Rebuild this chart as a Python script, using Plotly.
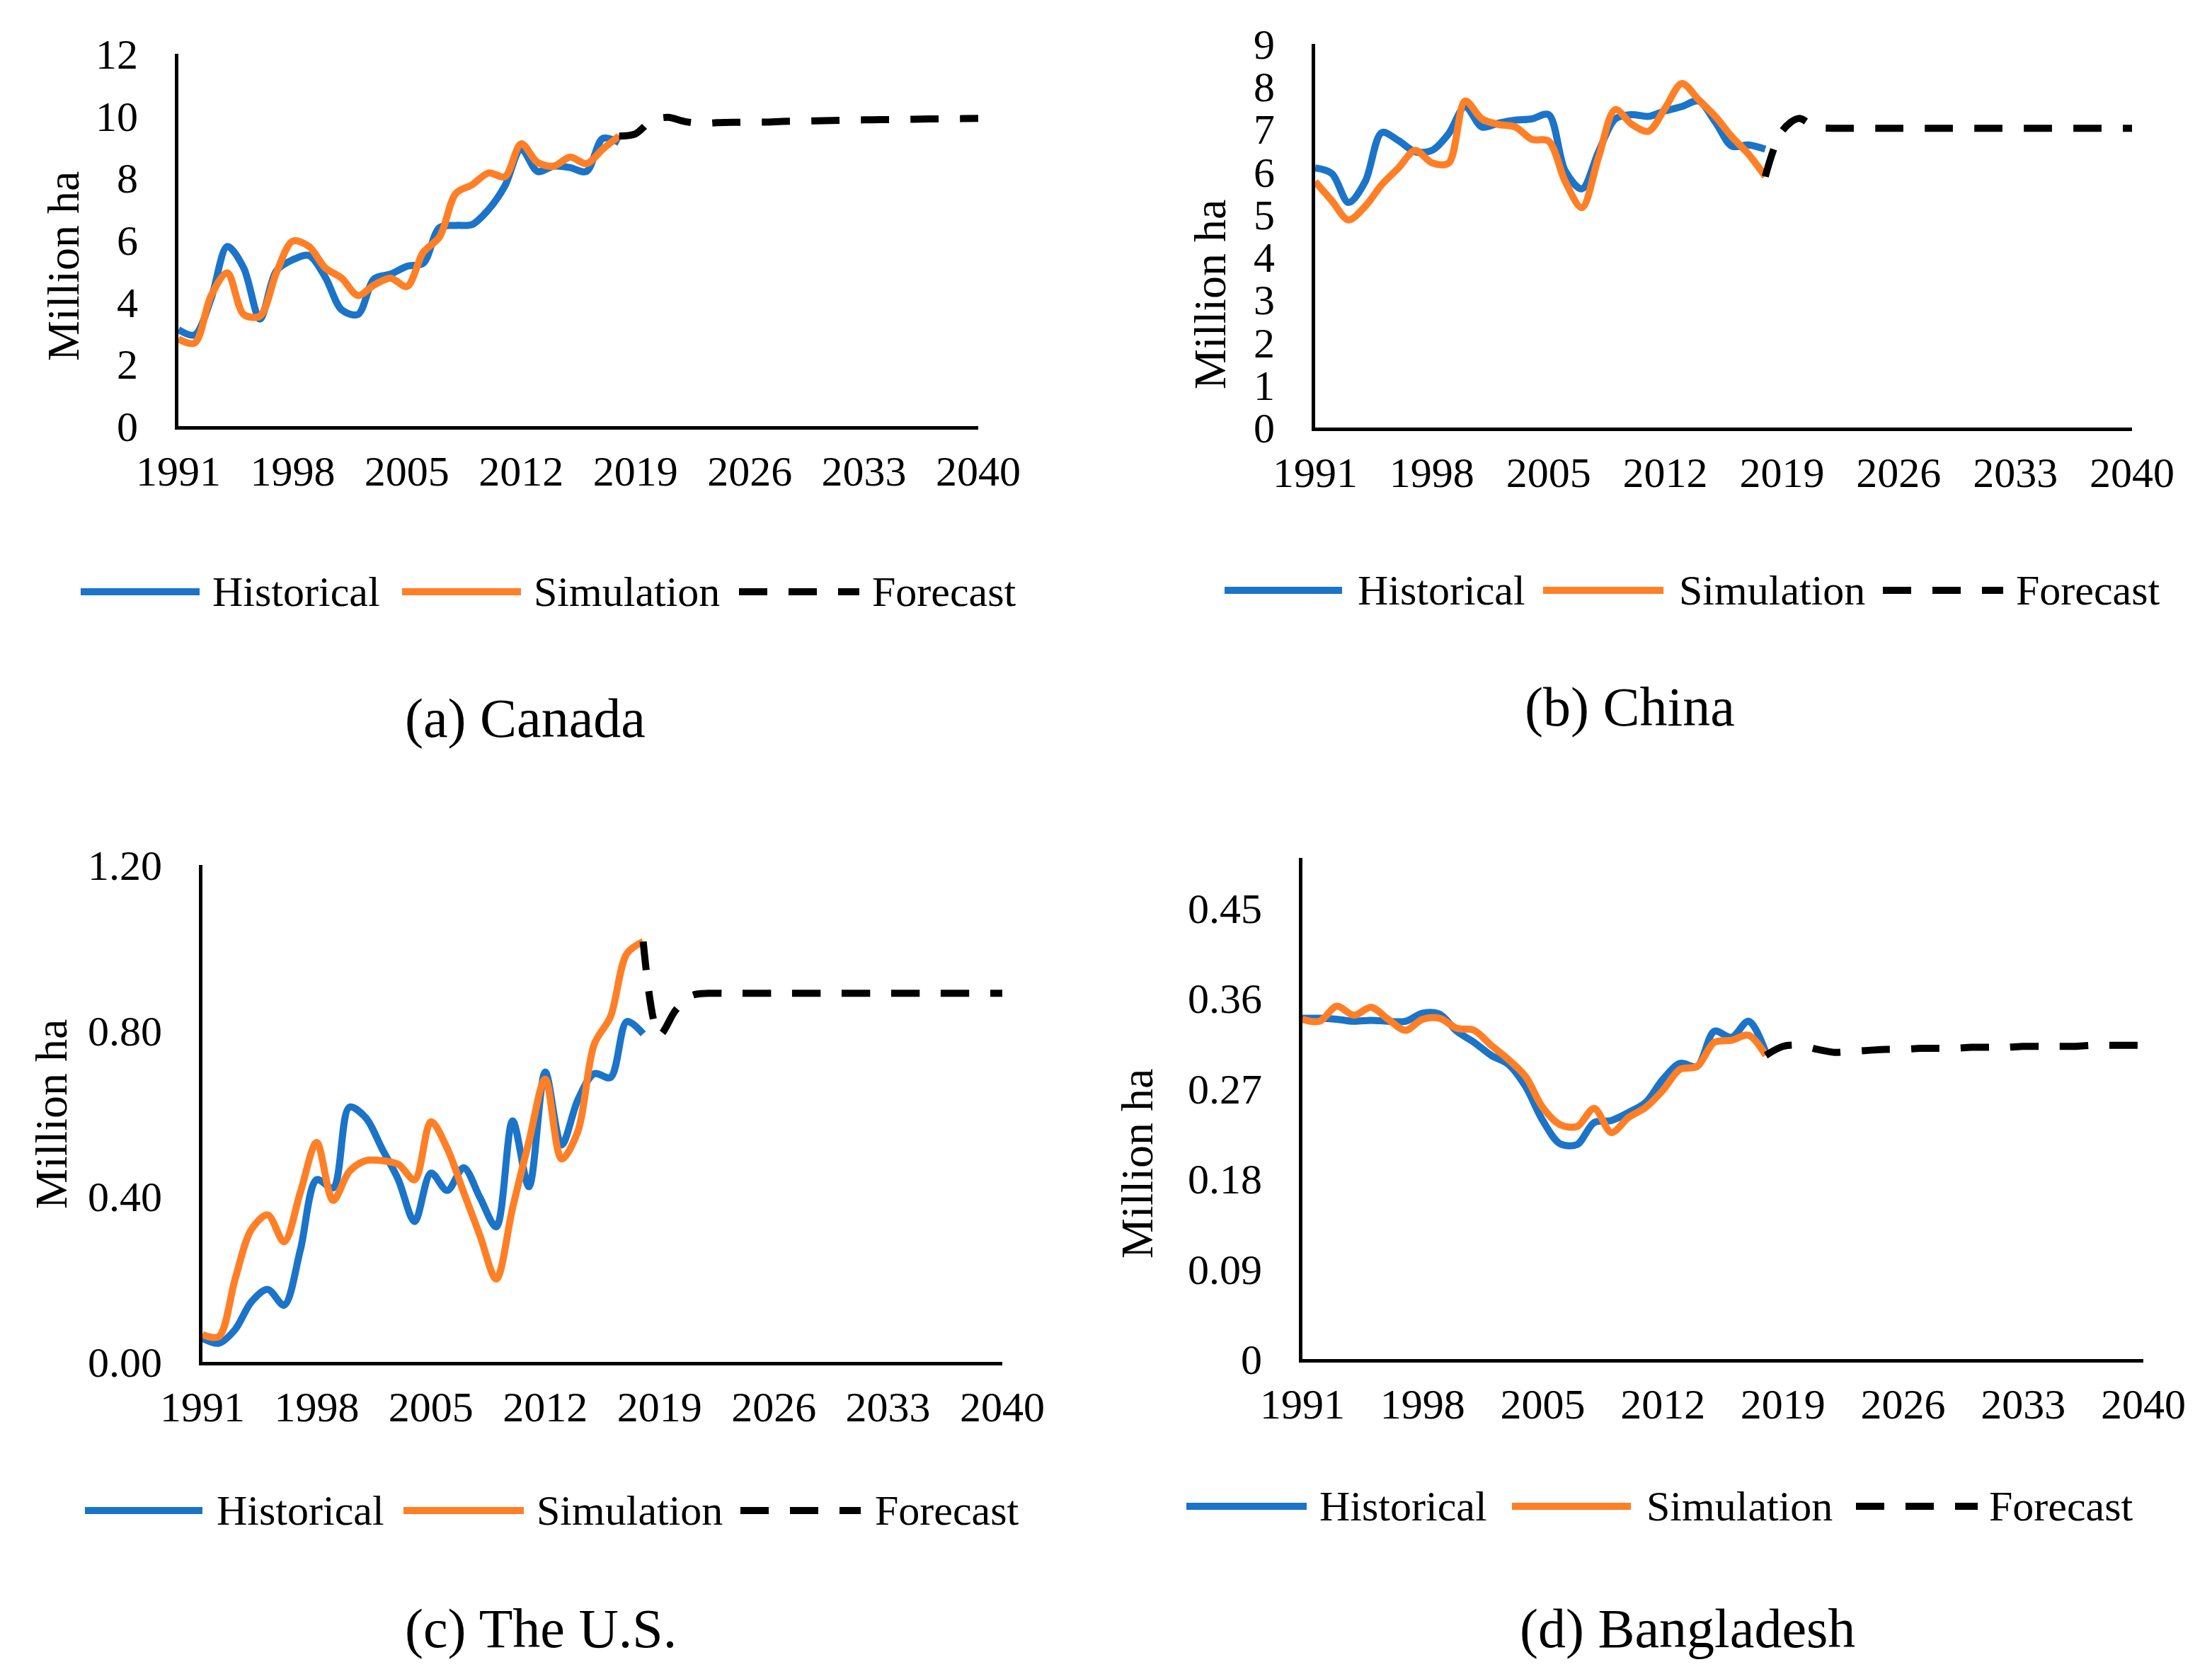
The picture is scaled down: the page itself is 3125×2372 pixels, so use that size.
import plotly.graph_objects as go

# --- DATA (Million ha) ---
YEARS_HIST = list(range(1991, 2019))
YEARS_FCST = list(range(2018, 2041))
X_TICKS = list(range(1991, 2041, 7))

canada_hist = [3.11, 2.94, 4.10, 5.79, 5.10, 3.45, 5.00, 5.36, 5.50, 4.80, 3.75, 3.60, 4.75, 4.90,
               5.15, 5.25, 6.40, 6.47, 6.50, 6.98, 7.74, 8.93, 8.21, 8.38, 8.33, 8.21, 9.27, 9.14]
canada_sim = [2.81, 2.68, 4.20, 4.94, 3.60, 3.55, 4.94, 5.96, 5.79, 5.10, 4.77, 4.21, 4.55, 4.77,
              4.50, 5.60, 6.10, 7.50, 7.78, 8.16, 8.04, 9.10, 8.50, 8.38, 8.67, 8.46, 8.93, 9.35]
canada_fcst = [9.35, 9.42, 9.85, 9.95, 9.82, 9.76, 9.78, 9.79, 9.80, 9.80, 9.82, 9.83, 9.84,
               9.85, 9.86, 9.87, 9.88, 9.88, 9.89, 9.90, 9.90, 9.91, 9.92]

china_hist = [6.09, 5.96, 5.28, 5.77, 6.92, 6.73, 6.47, 6.50, 6.89, 7.53, 7.05, 7.14, 7.21, 7.24,
              7.34, 6.02, 5.60, 6.47, 7.24, 7.34, 7.30, 7.43, 7.53, 7.66, 7.17, 6.60, 6.63, 6.53]
china_sim = [5.77, 5.32, 4.87, 5.19, 5.70, 6.09, 6.50, 6.21, 6.20, 7.66, 7.24, 7.11, 7.05, 6.76,
             6.72, 5.77, 5.16, 6.34, 7.46, 7.11, 6.95, 7.50, 8.07, 7.69, 7.30, 6.82, 6.41, 5.89]
china_fcst = [5.89, 6.95, 7.25, 7.05, 7.02, 7.02, 7.02, 7.02, 7.02, 7.02, 7.02, 7.02, 7.02,
              7.02, 7.02, 7.02, 7.02, 7.02, 7.02, 7.02, 7.02, 7.02, 7.02]

us_hist = [0.057, 0.045, 0.078, 0.145, 0.175, 0.137, 0.271, 0.440, 0.420, 0.615, 0.590, 0.515, 0.440, 0.339,
           0.456, 0.414, 0.469, 0.397, 0.326, 0.582, 0.423, 0.700, 0.524, 0.633, 0.696, 0.687, 0.822, 0.792]
us_sim = [0.066, 0.061, 0.200, 0.320, 0.355, 0.290, 0.410, 0.530, 0.390, 0.460, 0.486, 0.486, 0.477, 0.440,
          0.580, 0.515, 0.410, 0.305, 0.200, 0.372, 0.532, 0.683, 0.490, 0.557, 0.767, 0.834, 0.986, 1.015]
us_fcst = [1.015, 0.790, 0.850, 0.885, 0.890, 0.890, 0.890, 0.890, 0.890, 0.890, 0.890, 0.890,
           0.890, 0.890, 0.890, 0.890, 0.890, 0.890, 0.890, 0.890, 0.890, 0.890, 0.890]

bd_hist = [0.340, 0.340, 0.339, 0.337, 0.338, 0.337, 0.337, 0.345, 0.344, 0.327, 0.316, 0.303, 0.294, 0.272,
           0.238, 0.215, 0.214, 0.236, 0.238, 0.246, 0.256, 0.279, 0.295, 0.292, 0.327, 0.321, 0.337, 0.306]
bd_sim = [0.339, 0.337, 0.352, 0.343, 0.351, 0.339, 0.328, 0.339, 0.340, 0.330, 0.328, 0.313, 0.299, 0.282,
          0.251, 0.234, 0.232, 0.250, 0.226, 0.241, 0.251, 0.268, 0.289, 0.292, 0.316, 0.318, 0.323, 0.303]
bd_fcst = [0.303, 0.312, 0.313, 0.309, 0.306, 0.307, 0.308, 0.309, 0.309, 0.310, 0.310, 0.310,
           0.311, 0.311, 0.311, 0.312, 0.312, 0.312, 0.312, 0.313, 0.313, 0.313, 0.313]

SERIES_NAMES = ["Historical", "Simulation", "Forecast"]
CAPTIONS = ["(a) Canada", "(b) China", "(c) The U.S.", "(d) Bangladesh"]

# --- STYLE ---
W, H = 3125, 2372
FONT = "Liberation Serif"
BLUE = "#1B74C8"
ORANGE = "#FF7F27"
BLACK = "#000000"
LINE_W = 10
DASH = "40px,30px"
# the page body adds a small margin around the plot; pull positions back by that much
PAGE_OFFSET = 4


def fx(x):
    return (x - PAGE_OFFSET) / 1562.5


def fy(y):
    return 1 - (y - PAGE_OFFSET) / 1186


PANELS = [
    dict(data=(canada_hist, canada_sim, canada_fcst), xd=(126, 691), yd=(38, 301),
         yrange=[0, 12], tickvals=[0, 2, 4, 6, 8, 10, 12], fmt="",
         ytitle=(45, 188), legend_y=418, legend_x=(57, 141, 149, 284, 368, 376, 522, 607, 615),
         caption=(371, 507)),
    dict(data=(china_hist, china_sim, china_fcst), xd=(929, 1506), yd=(31, 302),
         yrange=[0, 9], tickvals=list(range(10)), fmt="",
         ytitle=(855, 208), legend_y=417, legend_x=(865, 948, 958, 1090, 1175, 1185, 1330, 1415, 1423),
         caption=(1151, 499)),
    dict(data=(us_hist, us_sim, us_fcst), xd=(143, 708), yd=(611, 962),
         yrange=[0, 1.2], tickvals=[0, 0.4, 0.8, 1.2], fmt=".2f",
         ytitle=(36, 787), legend_y=1067, legend_x=(60, 143, 152, 285, 370, 378, 523, 608, 617),
         caption=(382, 1150)),
    dict(data=(bd_hist, bd_sim, bd_fcst), xd=(920, 1514), yd=(606, 960),
         yrange=[0, 0.5], tickvals=[0, 0.09, 0.18, 0.27, 0.36, 0.45], fmt="",
         ytitle=(803, 822), legend_y=1064, legend_x=(838, 923, 931, 1068, 1152, 1162, 1311, 1397, 1404),
         caption=(1192, 1150)),
]

fig = go.Figure()
layout = dict(
    width=W, height=H,
    margin=dict(l=0, r=0, t=0, b=0, pad=0, autoexpand=False),
    paper_bgcolor="white", plot_bgcolor="white",
    showlegend=False,
    font=dict(family=FONT, size=60, color="black"),
)
shapes = []
annotations = []

for i, p in enumerate(PANELS, start=1):
    sfx = "" if i == 1 else str(i)
    hist, sim, fcst = p["data"]
    xa, ya = "x" + sfx, "y" + sfx
    for xs, ys, color, dash in [
        (YEARS_HIST, hist, BLUE, "solid"),
        (YEARS_HIST, sim, ORANGE, "solid"),
        (YEARS_FCST, fcst, BLACK, DASH),
    ]:
        fig.add_trace(go.Scatter(
            x=xs, y=ys, mode="lines", xaxis=xa, yaxis=ya,
            line=dict(color=color, width=LINE_W, dash=dash, shape="spline", smoothing=0.9),
            hoverinfo="skip", cliponaxis=False,
        ))

    layout["xaxis" + sfx] = dict(
        domain=[fx(p["xd"][0]), fx(p["xd"][1])], anchor=ya, automargin=False,
        range=[1991, 2040], tickvals=X_TICKS, showgrid=False, zeroline=False,
        showline=True, linecolor="black", linewidth=5, ticks="",
        ticklabelstandoff=7, tickfont=dict(family=FONT, size=60, color="black"),
    )
    layout["yaxis" + sfx] = dict(
        domain=[fy(p["yd"][1]), fy(p["yd"][0])], anchor=xa, automargin=False,
        range=p["yrange"], tickvals=p["tickvals"], tickformat=p["fmt"],
        showgrid=False, zeroline=False,
        showline=True, linecolor="black", linewidth=5, ticks="",
        ticklabelstandoff=40, tickfont=dict(family=FONT, size=60, color="black"),
    )

    # y title
    annotations.append(dict(
        text="Million ha", x=fx(p["ytitle"][0]), y=fy(p["ytitle"][1]),
        xref="paper", yref="paper", textangle=-90, showarrow=False,
        xanchor="center", yanchor="middle", font=dict(family=FONT, size=64, color="black"),
    ))

    # legend drawn by hand so the samples are as long as in the original
    lx = p["legend_x"]
    ly = fy(p["legend_y"])
    for k, (color, dash) in enumerate([(BLUE, "solid"), (ORANGE, "solid"), (BLACK, DASH)]):
        shapes.append(dict(
            type="line", xref="paper", yref="paper",
            x0=fx(lx[3 * k]), x1=fx(lx[3 * k + 1]), y0=ly, y1=ly,
            line=dict(color=color, width=LINE_W, dash=dash),
        ))
        annotations.append(dict(
            text=SERIES_NAMES[k], x=fx(lx[3 * k + 2]), y=ly,
            xref="paper", yref="paper", showarrow=False,
            xanchor="left", yanchor="middle", font=dict(family=FONT, size=60, color="black"),
        ))

    # caption under the panel
    annotations.append(dict(
        text=CAPTIONS[i - 1], x=fx(p["caption"][0]), y=fy(p["caption"][1]),
        xref="paper", yref="paper", showarrow=False,
        xanchor="center", yanchor="middle", font=dict(family=FONT, size=78, color="black"),
    ))

layout["shapes"] = shapes
layout["annotations"] = annotations
fig.update_layout(**layout)

fig.write_html("out.html")
